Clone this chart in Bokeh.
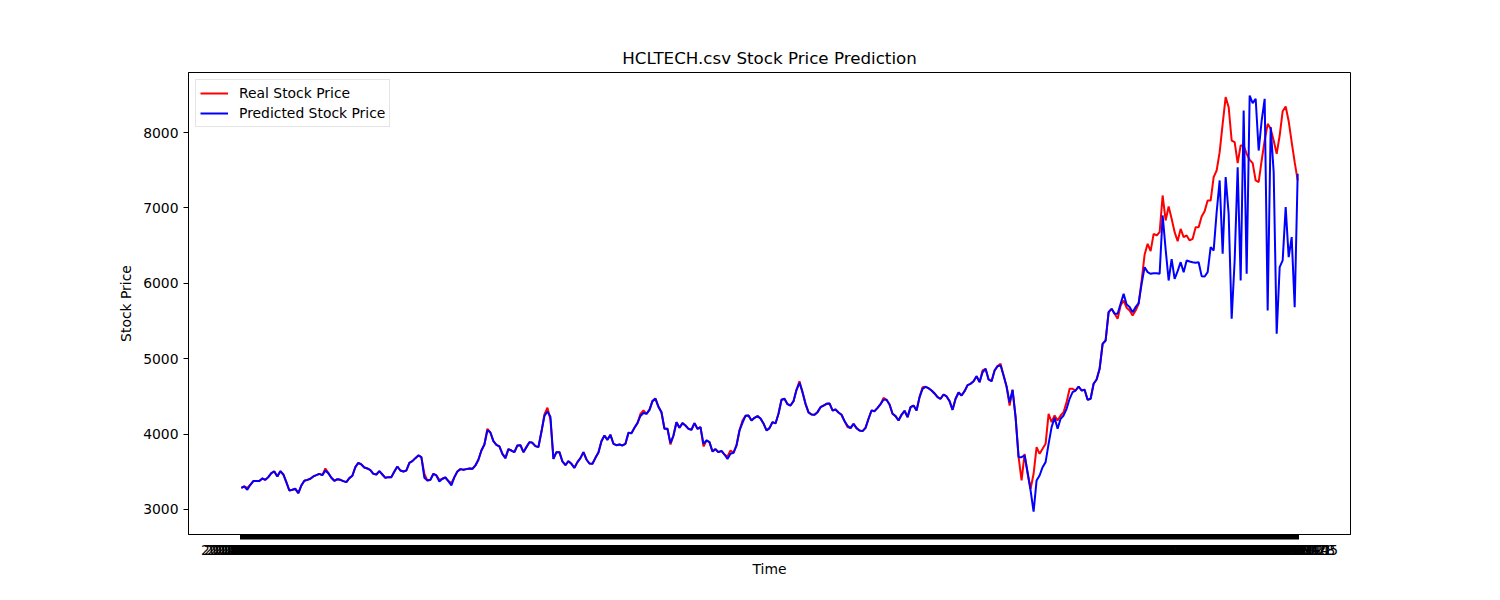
import pandas as pd
from bokeh.plotting import figure
from bokeh.models import Range1d, FixedTicker
from bokeh.embed import file_html
from bokeh.resources import INLINE

# values
real_price = [
    3287, 3305, 3287, 3327, 3376, 3376, 3376, 3411, 3393, 3429,
    3482, 3504, 3438, 3508, 3464, 3362, 3252, 3261, 3274, 3217,
    3318, 3380, 3393, 3407, 3438, 3455, 3473, 3455, 3544, 3482,
    3420, 3380, 3402, 3393, 3376, 3362, 3416, 3447, 3561, 3619,
    3597, 3557, 3544, 3522, 3473, 3464, 3508, 3464, 3420, 3429,
    3429, 3504, 3570, 3517, 3504, 3517, 3619, 3641, 3681, 3716,
    3694, 3473, 3385, 3393, 3473,
    3451, 3393, 3407, 3424, 3376, 3349, 3429, 3504, 3535, 3526,
    3535, 3544, 3539, 3584, 3659, 3782, 3862, 4070, 4021, 3906,
    3858, 3836, 3738, 3681, 3800, 3782, 3760, 3849, 3853, 3760,
    3827, 3893, 3884, 3840, 3827, 4030, 4260, 4350, 4194, 3672,
    3760, 3760, 3637, 3588, 3641, 3606, 3553, 3628, 3681, 3760,
    3663, 3610, 3606, 3685, 3756, 3906, 3981, 3924, 3990, 3871,
    3853, 3862, 3849, 3871, 4017,
    4012, 4083, 4145, 4269, 4313, 4269, 4322, 4437, 4470, 4362,
    4291, 4070, 4070, 3862, 3981, 4158, 4083, 4145, 4114, 4070,
    4057, 4145, 4070, 4092, 3836, 3915, 3893, 3769, 3800, 3760,
    3778, 3729, 3703, 3782, 3752, 3849, 4048, 4180, 4242, 4247,
    4180, 4216, 4238, 4207, 4141, 4048, 4079, 4158, 4141, 4269,
    4455, 4468, 4397, 4379, 4437, 4587, 4702, 4556, 4401, 4287,
    4260, 4256, 4291, 4357, 4379,
    4401, 4406, 4313, 4326, 4287, 4256, 4172, 4092, 4079, 4136,
    4079, 4048, 4039, 4083, 4203, 4313, 4304, 4348, 4397, 4481,
    4455, 4393, 4269, 4238, 4180, 4256, 4309, 4225, 4357, 4379,
    4313, 4490, 4622, 4627, 4609, 4578, 4539, 4490, 4468, 4525,
    4499, 4437, 4322, 4468, 4552, 4512, 4569, 4649, 4667, 4702,
    4768, 4689, 4844, 4866, 4724, 4702, 4844, 4901, 4932, 4777,
    4631, 4379, 4587, 4225,
    3694, 3385, 3738, 3473, 3274, 3473, 3827, 3738, 3805, 3871,
    4269, 4158, 4247, 4180, 4247, 4291, 4424, 4600, 4600, 4578,
    4631, 4578, 4587, 4455, 4468, 4667, 4724, 4866, 5197, 5241,
    5617, 5661, 5595, 5529, 5706, 5772, 5675, 5639, 5573, 5639,
    5728,
    6037, 6382, 6524, 6426, 6656, 6634, 6678, 7165, 6833, 7019,
    6855, 6678, 6559, 6722, 6612, 6634, 6568, 6590, 6745, 6745,
    6886, 6957, 7098, 7098, 7408, 7496, 7739, 8115, 8470, 8336,
    7894, 7872, 7593, 7828, 7828, 7717, 7638, 7593, 7364, 7342,
    7629, 7894, 8115, 8049, 7894, 7717, 7960, 8283, 8345, 8150,
    7872, 7607, 7364,
]

pred_price = [
    3287, 3305, 3262, 3327, 3376, 3376, 3376, 3411, 3393, 3429,
    3482, 3504, 3438, 3508, 3464, 3362, 3252, 3261, 3274, 3217,
    3318, 3380, 3393, 3407, 3438, 3455, 3473, 3455, 3515, 3482,
    3420, 3380, 3402, 3393, 3376, 3362, 3416, 3447, 3561, 3619,
    3597, 3557, 3544, 3522, 3473, 3464, 3508, 3464, 3420, 3429,
    3429, 3504, 3570, 3517, 3504, 3517, 3619, 3641, 3681, 3716,
    3694, 3420, 3385, 3393, 3473,
    3451, 3370, 3407, 3424, 3376, 3320, 3429, 3504, 3535, 3526,
    3535, 3544, 3539, 3584, 3659, 3782, 3862, 4050, 4021, 3906,
    3858, 3836, 3738, 3681, 3800, 3782, 3760, 3849, 3853, 3760,
    3827, 3893, 3884, 3840, 3827, 4030, 4240, 4300, 4230, 3672,
    3760, 3760, 3637, 3588, 3641, 3606, 3553, 3628, 3681, 3760,
    3663, 3610, 3606, 3685, 3756, 3906, 3981, 3924, 3990, 3871,
    3853, 3862, 3849, 3871, 4017,
    4012, 4083, 4145, 4240, 4280, 4269, 4322, 4437, 4470, 4362,
    4291, 4070, 4070, 3880, 3981, 4158, 4083, 4145, 4114, 4070,
    4057, 4145, 4070, 4092, 3870, 3915, 3893, 3769, 3800, 3760,
    3778, 3729, 3670, 3740, 3752, 3849, 4048, 4150, 4242, 4247,
    4180, 4216, 4238, 4207, 4141, 4048, 4079, 4158, 4141, 4269,
    4455, 4468, 4397, 4379, 4437, 4587, 4680, 4556, 4401, 4287,
    4260, 4256, 4291, 4357, 4379,
    4401, 4406, 4313, 4326, 4287, 4256, 4172, 4110, 4079, 4136,
    4079, 4048, 4039, 4083, 4203, 4313, 4304, 4348, 4397, 4455,
    4455, 4393, 4269, 4238, 4180, 4256, 4309, 4225, 4357, 4379,
    4313, 4490, 4600, 4627, 4609, 4578, 4539, 4490, 4468, 4525,
    4499, 4437, 4322, 4468, 4552, 4512, 4569, 4649, 4667, 4702,
    4768, 4689, 4820, 4866, 4724, 4702, 4844, 4901, 4910, 4777,
    4631, 4420, 4587, 4225,
    3694, 3694, 3716, 3495, 3252, 2970, 3385, 3451, 3561, 3628,
    3871, 4092, 4216, 4070, 4203, 4247, 4335, 4468, 4556, 4578,
    4631, 4578, 4587, 4455, 4468, 4667, 4724, 4866, 5197, 5241,
    5617, 5661, 5595, 5595, 5728, 5860, 5719, 5684, 5617, 5684,
    5737,
    5993, 6214, 6148, 6126, 6134, 6134, 6126, 6900, 6450, 6037,
    6321, 6059, 6161, 6280, 6148, 6303, 6289, 6280, 6272, 6280,
    6095, 6090, 6148, 6479, 6435, 6943, 7364, 6391, 7408, 6921,
    5529, 6303, 7540, 6037, 8292, 6126, 8491, 8389, 8447, 7761,
    8159, 8447, 5639, 8071, 7474, 5330, 6214, 6303, 7010, 6347,
    6612, 5683, 7452,
]

y_ticks = [3000, 4000, 5000, 6000, 7000, 8000]

# the date labels are unreadable in the reference (they all overlap)
dates = list(pd.date_range("2014-01-06", periods=len(real_price), freq="W-MON").strftime("%Y-%m-%d"))

FONT = "DejaVu Sans"
x = list(range(len(real_price)))
n = len(x)

p = figure(width=1500, height=600, output_backend="svg", toolbar_location=None,
           x_range=Range1d(-0.05 * (n - 1), 1.05 * (n - 1)), y_range=Range1d(2668, 8796),
           min_border_left=188, min_border_right=150, min_border_top=72, min_border_bottom=66,
           title="HCLTECH.csv Stock Price Prediction")

p.line(x, real_price, color="red", line_width=2, legend_label="Real Stock Price")
p.line(x, pred_price, color="blue", line_width=2, legend_label="Predicted Stock Price")

p.title.align = "center"
p.title.text_font = FONT
p.title.text_font_size = "16.7px"
p.title.text_font_style = "normal"
p.title.text_color = "black"

p.xgrid.visible = False
p.ygrid.visible = False
p.outline_line_color = "black"
p.outline_line_alpha = 1
p.outline_line_width = 1

p.xaxis.ticker = FixedTicker(ticks=x)
p.xaxis.major_label_overrides = {i: d for i, d in enumerate(dates)}
p.xaxis.axis_label = "Time"
p.yaxis.ticker = FixedTicker(ticks=y_ticks)
p.yaxis.axis_label = "Stock Price"

for ax in [p.xaxis[0], p.yaxis[0]]:
    ax.axis_label_text_font = FONT
    ax.axis_label_text_font_size = "13.9px"
    ax.axis_label_text_font_style = "normal"
    ax.axis_label_text_color = "black"
    ax.major_label_text_font = FONT
    ax.major_label_text_font_size = "13.9px"
    ax.major_label_text_color = "black"
    ax.major_tick_in = 0
    ax.major_tick_out = 5
    ax.major_tick_line_color = "black"
    ax.minor_tick_line_color = None
    ax.axis_line_color = "black"
    ax.major_label_standoff = 5
    ax.axis_label_standoff = 6

p.xaxis.major_tick_line_width = 3
p.xaxis.axis_label_standoff = 3

p.legend.location = "top_left"
p.legend.margin = 7
p.legend.padding = 4
p.legend.spacing = 2
p.legend.label_height = 18
p.legend.glyph_height = 18
p.legend.glyph_width = 28
p.legend.label_standoff = 11
p.legend.label_text_font = FONT
p.legend.label_text_font_size = "13.9px"
p.legend.label_text_color = "black"
p.legend.border_line_color = "#cccccc"
p.legend.border_line_width = 1
p.legend.background_fill_alpha = 0.8

open("out.html", "w").write(file_html(p, INLINE))
